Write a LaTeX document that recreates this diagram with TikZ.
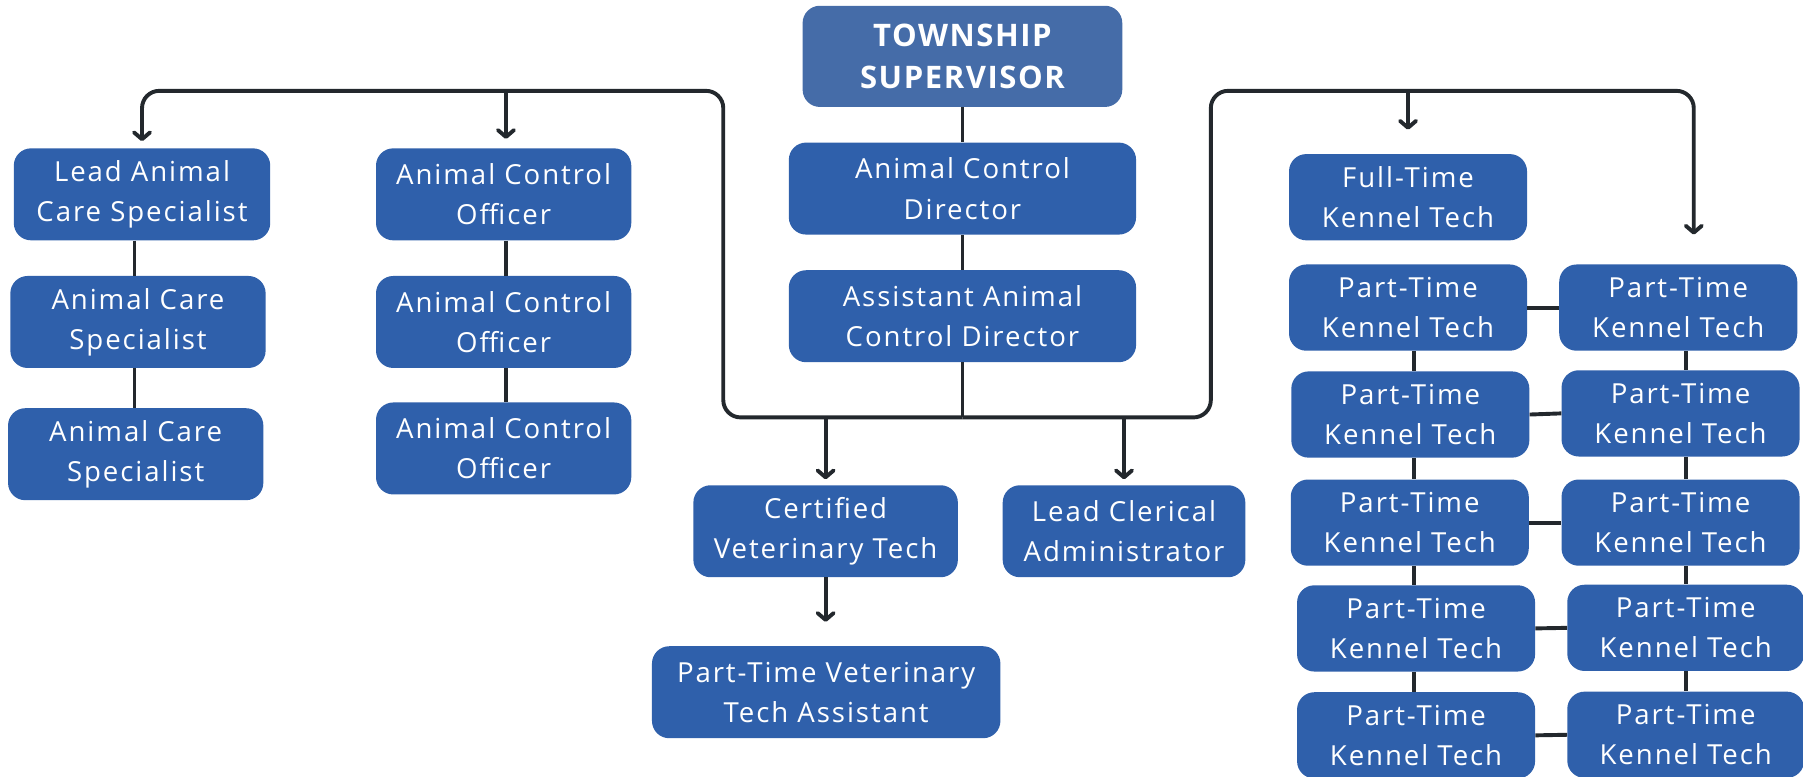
\documentclass[tikz,border=0pt]{standalone}
\usepackage{fontspec}
\setmainfont{Open Sans}[LetterSpace=7]
\newfontfamily\titlefont{Open Sans}[LetterSpace=5]
\usetikzlibrary{arrows.meta}
\definecolor{boxblue}{HTML}{2F60AB}
\definecolor{topblue}{HTML}{456CA8}
\definecolor{linec}{HTML}{23282D}
\begin{document}
\begin{tikzpicture}[x=1pt,y=-1pt,
  box/.style={rectangle, rounded corners=15pt, fill=boxblue, text=white, align=center, inner sep=0pt, font=\fontsize{24}{35}\selectfont},
  wh/.style 2 args={minimum width=#1pt, minimum height=#2pt},
  conn/.style={draw=linec, line width=3.4pt},
  arr/.style={conn, -{Straight Barb[length=6pt,width=14pt,round]}},
]
\useasboundingbox (0,0) rectangle (1568,675);
% nodes
\node[box, wh={278}{88}, fill=topblue, font=\titlefont\bfseries\fontsize{27}{37}\selectfont] (top) at (837,49) {TOWNSHIP\\SUPERVISOR};
\node[box, wh={302}{80}] (acd) at (837,164) {Animal Control\\Director};
\node[box, wh={302}{80}] (aacd) at (837,275) {Assistant Animal\\Control Director};
\node[box, wh={223}{80}] (lacs) at (123.5,169) {Lead Animal\\Care Specialist};
\node[box, wh={222}{80}] (acs1) at (120,280) {Animal Care\\Specialist};
\node[box, wh={222}{80}] (acs2) at (118,395) {Animal Care\\Specialist};
\node[box, wh={222}{80}] (aco1) at (438,169) {Animal Control\\Officer};
\node[box, wh={222}{80}] (aco2) at (438,280) {Animal Control\\Officer};
\node[box, wh={222}{80}] (aco3) at (438,390) {Animal Control\\Officer};
\node[box, wh={230}{80}] (cvt) at (718,462) {Certified\\Veterinary Tech};
\node[box, wh={211}{80}] (lca) at (977.5,462) {Lead Clerical\\Administrator};
\node[box, wh={303}{80}] (ptvta) at (718.5,602) {Part-Time Veterinary\\Tech Assistant};
\node[box, wh={207}{75}] (ftkt) at (1224.5,171.5) {Full-Time\\Kennel Tech};
\node[box, wh={207}{75}] (L1) at (1224.5,267.5) {Part-Time\\Kennel Tech};
\node[box, wh={207}{75}] (L2) at (1226.5,360.5) {Part-Time\\Kennel Tech};
\node[box, wh={207}{75}] (L3) at (1226,454.5) {Part-Time\\Kennel Tech};
\node[box, wh={207}{75}] (L4) at (1231.5,546.5) {Part-Time\\Kennel Tech};
\node[box, wh={207}{75}] (L5) at (1231.5,639.5) {Part-Time\\Kennel Tech};
\node[box, wh={207}{75}] (R1) at (1459.5,267.5) {Part-Time\\Kennel Tech};
\node[box, wh={207}{75}] (R2) at (1461.5,359.5) {Part-Time\\Kennel Tech};
\node[box, wh={207}{75}] (R3) at (1461.5,454.5) {Part-Time\\Kennel Tech};
\node[box, wh={206}{75}] (R4) at (1466,546) {Part-Time\\Kennel Tech};
\node[box, wh={206}{75}] (R5) at (1466,639) {Part-Time\\Kennel Tech};
% helper coordinates
\coordinate (bl) at (629,363);
\coordinate (tl) at (629,79);
\coordinate (br) at (1053,363);
\coordinate (tr) at (1053,79);
\coordinate (rarr) at (1473,204);
\coordinate (acsx) at (117,0);
\coordinate (acox) at (440,0);
\coordinate (lx) at (1230,0);
\coordinate (rx) at (1466,0);
% central chain
\draw[conn] (top.south) -- (acd.north);
\draw[conn] (acd.south) -- (aacd.north);
\draw[conn] (aacd.south) -- (aacd.south |- bl);
% left branch
\draw[arr, rounded corners=15pt, shorten >=6pt] (aacd.south |- bl) -- (bl) -- (tl) -| (lacs.north);
\draw[arr, shorten >=8pt] (acox |- tl) -- (aco1.north -| acox);
% right branch
\draw[arr, rounded corners=15pt] (aacd.south |- br) -- (br) -- (tr) -| (rarr);
\draw[arr, shorten >=21pt] (ftkt.north |- tr) -- (ftkt.north);
% bus arrows
\draw[arr, shorten >=5pt] (cvt.north |- bl) -- (cvt.north);
\draw[arr, shorten >=5pt] (lca.north |- bl) -- (lca.north);
\draw[arr, shorten >=21pt] (cvt.south) -- (ptvta.north -| cvt.south);
% left column chains
\draw[conn] (lacs.south -| acsx) -- (acs1.north -| acsx);
\draw[conn] (acs1.south -| acsx) -- (acs2.north -| acsx);
\draw[conn] (aco1.south -| acox) -- (aco2.north -| acox);
\draw[conn] (aco2.south -| acox) -- (aco3.north -| acox);
% kennel grid
\foreach \a/\b in {L1/L2,L2/L3,L3/L4,L4/L5}{
  \draw[conn] (\a.south -| lx) -- (\b.north -| lx);
}
\foreach \a/\b in {R1/R2,R2/R3,R3/R4,R4/R5}{
  \draw[conn] (\a.south -| rx) -- (\b.north -| rx);
}
\foreach \i in {1,...,5}{
  \draw[conn] (L\i.east) -- (R\i.west);
}
\end{tikzpicture}
\end{document}
